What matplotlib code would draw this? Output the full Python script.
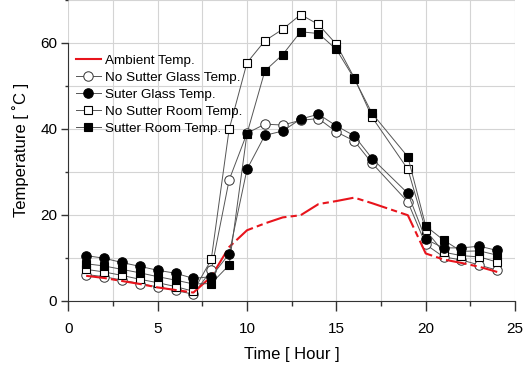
import matplotlib
matplotlib.use("Agg")
import matplotlib.pyplot as plt
from matplotlib.ticker import MultipleLocator
from matplotlib.lines import Line2D

plt.rcParams['font.family'] = ['Liberation Sans', 'DejaVu Sans']

hours = [1, 2, 3, 4, 5, 6, 7, 8, 9, 10, 11, 12, 13, 14, 15, 16, 17, 19, 20, 21, 22, 23, 24]
ambient = [5.8, 5.3, 4.6, 3.9, 3.1, 2.5, 1.9, 5.6, 12.5, 16.4, 18.0, 19.4, 19.9, 22.5, 23.2, 24.0, 22.7, 19.9, 11.0, 9.6, 8.8, 7.9, 6.7]
no_sutter_glass = [6.1, 5.6, 4.8, 4.0, 3.2, 2.4, 1.5, 7.1, 28.1, 39.0, 41.1, 40.9, 42.0, 42.4, 39.3, 37.2, 32.0, 23.0, 13.1, 10.2, 9.5, 8.3, 7.1]
suter_glass = [10.5, 9.9, 8.9, 8.0, 7.1, 6.4, 5.2, 5.6, 10.9, 30.6, 38.5, 39.5, 42.3, 43.4, 40.7, 38.4, 33.1, 25.0, 14.3, 12.3, 12.3, 12.7, 11.7]
no_sutter_room = [7.3, 6.7, 5.9, 5.0, 4.2, 3.3, 2.2, 9.6, 39.9, 55.4, 60.5, 63.2, 66.6, 64.3, 59.7, 51.9, 42.7, 30.6, 16.4, 11.3, 10.5, 10.2, 9.0]
sutter_room = [8.6, 8.1, 7.3, 6.5, 5.6, 4.8, 3.9, 4.0, 8.3, 38.9, 53.5, 57.3, 62.6, 62.2, 58.5, 51.7, 43.6, 33.5, 17.4, 14.1, 11.5, 11.6, 10.6]

labels = ["Ambient Temp.", "No Sutter Glass Temp.", "Suter Glass Temp.",
          "No Sutter Room Temp.", "Sutter Room Temp."]

fig = plt.figure(figsize=(5.24, 3.69), dpi=100)
ax = fig.add_axes([0.1303, 0.185, 0.8527, 0.815])

lc = '#555555'
lw = 0.7
h_amb, = ax.plot(hours, ambient, color='#e8141c', lw=1.5, dashes=(10, 2, 3, 2), zorder=3)
h_nsg, = ax.plot(hours, no_sutter_glass, color=lc, lw=lw, marker='o', ms=6.8,
                 mfc='white', mec='#333333', mew=0.7, zorder=2)
h_nsr, = ax.plot(hours, no_sutter_room, color=lc, lw=lw, marker='s', ms=6.2,
                 mfc='white', mec='black', mew=0.8, zorder=2)
h_sr, = ax.plot(hours, sutter_room, color=lc, lw=lw, marker='s', ms=6.2,
                mfc='black', mec='black', mew=0.8, zorder=4)
h_sg, = ax.plot(hours, suter_glass, color=lc, lw=lw, marker='o', ms=6.8,
                mfc='black', mec='black', mew=0.8, zorder=5)

leg_amb = Line2D([], [], color='#e8141c', lw=1.5)
leg = ax.legend([leg_amb, h_nsg, h_sg, h_nsr, h_sr], labels, loc='upper left',
                bbox_to_anchor=(0.0, 0.845), frameon=False, fontsize=9.7,
                handlelength=1.8, handletextpad=0.3, labelspacing=0.33,
                borderaxespad=0.2)

ax.set_xlim(0, 25)
ax.set_ylim(0, 70)
ax.xaxis.set_major_locator(MultipleLocator(5))
ax.xaxis.set_minor_locator(MultipleLocator(2.5))
ax.yaxis.set_minor_locator(MultipleLocator(10))
ax.set_yticks([0, 20, 40, 60])

ax.grid(True, which='both', color='#d4d4d4', lw=0.8, zorder=0)
ax.set_axisbelow(True)

for s in ['top', 'right']:
    ax.spines[s].set_visible(False)
ax.spines['left'].set_bounds(0, 60)
ax.spines['left'].set_color('#333333')
ax.spines['bottom'].set_color('#333333')

ax.tick_params(axis='x', which='major', length=7, width=1, color='#333333',
               labelsize=11, pad=8)
ax.tick_params(axis='x', which='minor', length=3.5, width=1, color='#333333')
ax.tick_params(axis='y', which='major', length=5, width=1, color='#333333',
               labelsize=11, pad=3)
ax.tick_params(axis='y', which='minor', length=2.5, width=1, color='#333333')

ax.set_xlabel('Time [ Hour ]', fontsize=12, labelpad=8)
ax.set_ylabel('Temperature [ \u02daC ]', fontsize=12, labelpad=8)

fig.savefig('out.png', dpi=100)
